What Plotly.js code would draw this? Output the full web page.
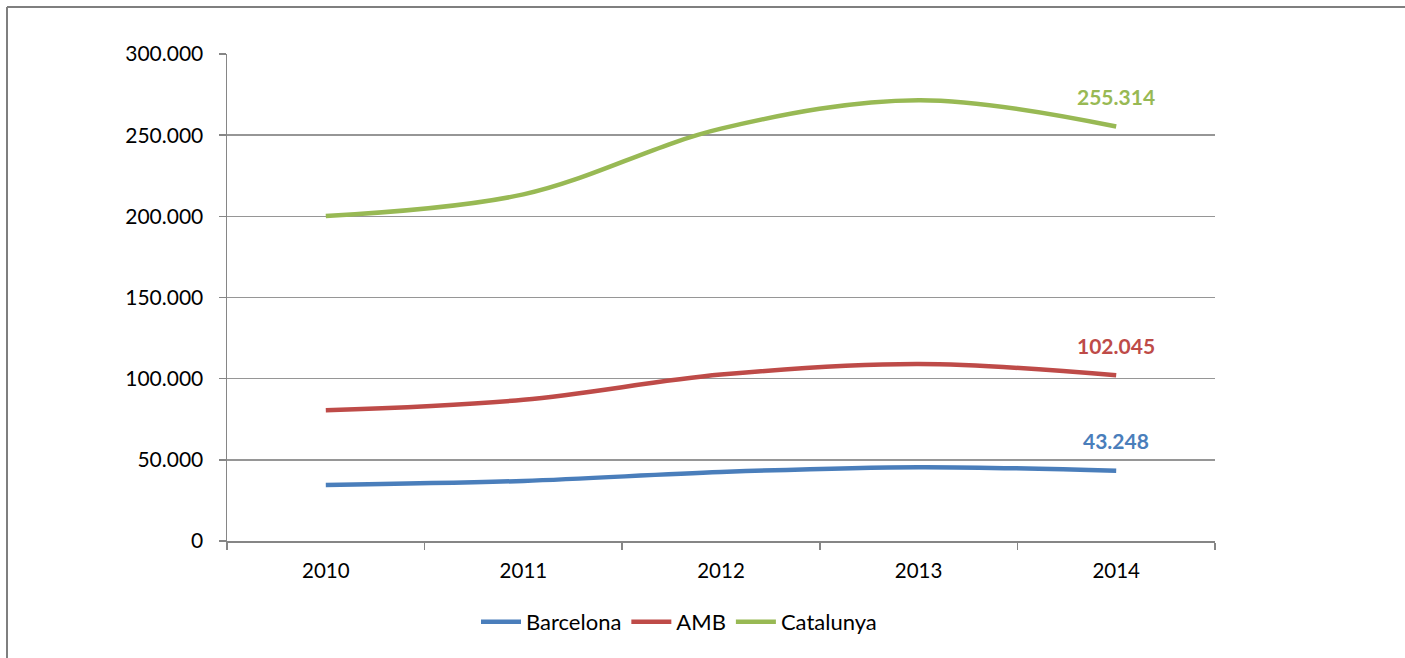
<!DOCTYPE html>
<html>
<head>
<meta charset="utf-8">
<script src="https://cdn.plot.ly/plotly-3.0.1.min.js"></script>
<style>html,body{margin:0;padding:0;background:#fff;}#chart{width:1405px;height:658px;}</style>
</head>
<body>
<div id="chart"></div>
<script>
const years = ["2010", "2011", "2012", "2013", "2014"];
const barcelona = [34500, 37000, 42500, 45500, 43248];
const amb = [80500, 87000, 102500, 109000, 102045];
const catalunya = [200200, 213500, 254000, 271500, 255314];
const seriesNames = ["Barcelona", "AMB", "Catalunya"];
const seriesColors = ["#4A7EBB", "#BE4B48", "#98B954"];
const yTicks = [0, 50000, 100000, 150000, 200000, 250000, 300000];

const W = 1405, H = 658;
const M = {l: 227, r: 190, t: 54, b: 117};
const pw = W - M.l - M.r, ph = H - M.t - M.b;
const px2x = p => (p - M.l) / pw;
const px2y = p => (H - M.b - p) / ph;

const fmt = v => Math.round(v).toString().replace(/\B(?=(\d{3})+(?!\d))/g, ".");
const FONT = "Lato, 'Open Sans', sans-serif";

const allSeries = [barcelona, amb, catalunya];
const traces = allSeries.map((vals, i) => ({
  x: years, y: vals, name: seriesNames[i], type: "scatter", mode: "lines",
  line: {color: seriesColors[i], width: 4.5, shape: "spline", smoothing: 1},
  hoverinfo: "skip"
}));

const annotations = allSeries.map((vals, i) => ({
  x: years.length - 1, y: vals[vals.length - 1], xref: "x", yref: "y",
  text: fmt(vals[vals.length - 1]), showarrow: false, yshift: 30,
  font: {family: FONT, size: 21, color: seriesColors[i], weight: "bold"}
}));

const layout = {
  width: W, height: H,
  margin: M,
  paper_bgcolor: "#fff", plot_bgcolor: "#fff",
  separators: ",.",
  font: {family: FONT, size: 20, color: "#000"},
  showlegend: true,
  legend: {orientation: "h", x: px2x(679), xanchor: "center", y: px2y(622), yanchor: "middle",
    font: {family: FONT, size: 22, color: "#000"}, traceorder: "normal", itemwidth: 40},
  xaxis: {type: "category", categoryorder: "array", categoryarray: years, range: [-0.5, years.length - 0.5],
    showgrid: false, showline: true, linecolor: "#868686", linewidth: 1.5,
    ticks: "outside", tickson: "boundaries", ticklen: 7, tickcolor: "#868686", tickwidth: 1.5, tickangle: 0,
    ticklabelstandoff: 11,
    tickfont: {family: FONT, size: 20.5, color: "#000"}, fixedrange: true},
  yaxis: {range: [0, 300000], tickvals: yTicks, ticktext: yTicks.map(fmt), showgrid: true,
    gridcolor: "#969696", gridwidth: 1.5, zeroline: false, showline: true, linecolor: "#868686", linewidth: 1.5,
    ticks: "outside", ticklen: 7, tickcolor: "#868686", tickwidth: 1.5, ticklabelstandoff: 11,
    tickfont: {family: FONT, size: 21, color: "#000"}, fixedrange: true},
  annotations: annotations,
  shapes: [
    {type: "line", xref: "paper", yref: "paper", x0: px2x(7), x1: px2x(W + 5), y0: px2y(7), y1: px2y(7),
      line: {color: "#7f7f7f", width: 2}},
    {type: "line", xref: "paper", yref: "paper", x0: px2x(7), x1: px2x(7), y0: px2y(7), y1: px2y(H + 5),
      line: {color: "#7f7f7f", width: 2}}
  ]
};

Plotly.newPlot("chart", traces, layout, {staticPlot: true, displayModeBar: false});
</script>
</body>
</html>
